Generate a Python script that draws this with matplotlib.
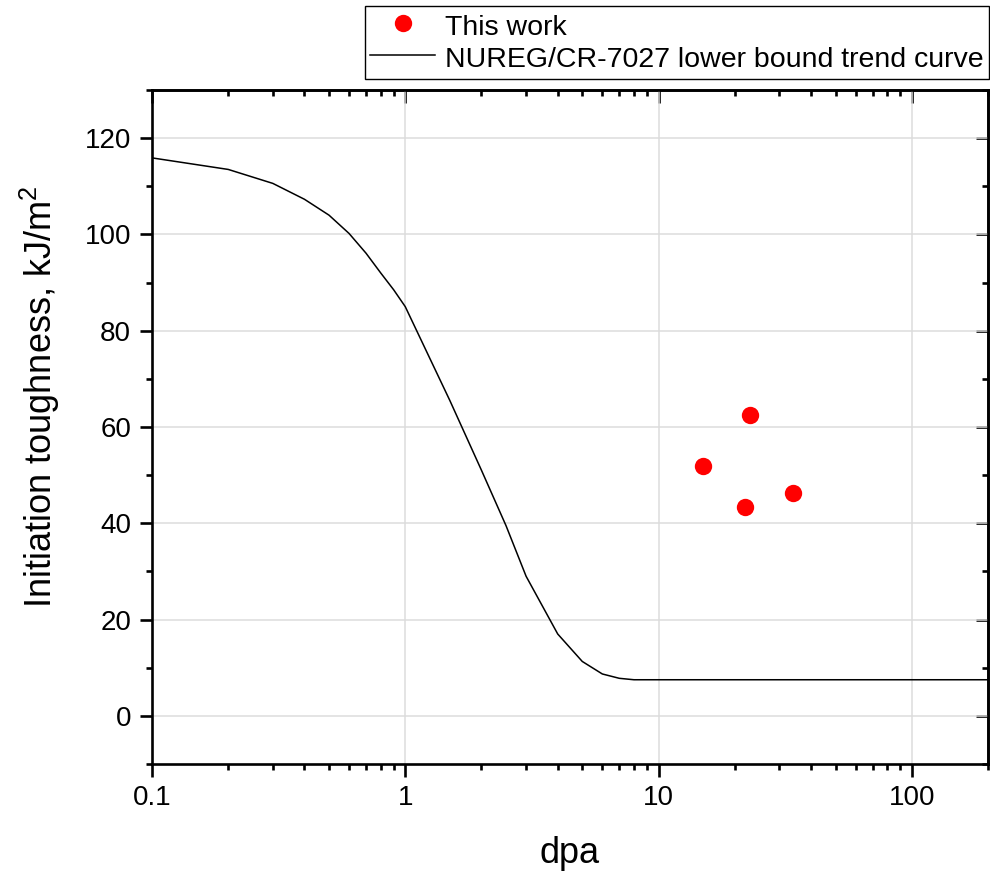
import matplotlib
matplotlib.use("Agg")
import matplotlib.pyplot as plt
from matplotlib.ticker import FixedLocator, LogLocator, MultipleLocator, NullFormatter, FuncFormatter

plt.rcParams["font.family"] = ["Liberation Sans", "DejaVu Sans"]
plt.rcParams["mathtext.fontset"] = "custom"
plt.rcParams["mathtext.rm"] = "Liberation Sans"
plt.rcParams["mathtext.default"] = "regular"

# NUREG/CR-7027 lower bound trend curve
curve_dpa = [0.1, 0.2, 0.3, 0.4, 0.5, 0.6, 0.7, 0.8, 0.9, 1.0,
             1.5, 2.0, 2.5, 3.0, 4.0, 5.0, 6.0, 7.0, 8.0, 10.0, 20.0, 50.0, 100.0, 200.0]
curve_jic = [115.9, 113.5, 110.6, 107.3, 104.0, 100.2, 96.1, 92.0, 88.5, 85.0,
             65.5, 51.0, 39.5, 29.0, 17.0, 11.3, 8.7, 7.8, 7.5, 7.5, 7.5, 7.5, 7.5, 7.5]

# This work
work_dpa = [15.0, 23.0, 22.0, 34.0]
work_jic = [51.9, 62.5, 43.4, 46.3]

x_major = [0.1, 1, 10, 100]

fig = plt.figure(figsize=(9.9, 8.71), dpi=100)
ax = fig.add_axes([152 / 990, 107 / 871, 836 / 990, 674 / 871])

ax.plot(work_dpa, work_jic, "o", color="#ff0000", markersize=12.5, markeredgewidth=0,
        label="This work", zorder=4)
ax.plot(curve_dpa, curve_jic, "-", color="black", linewidth=1.1,
        label="NUREG/CR-7027 lower bound trend curve", zorder=3)

ax.set_xscale("log")
ax.set_xlim(0.1, 200)
ax.set_ylim(-10, 130)

ax.xaxis.set_major_locator(FixedLocator(x_major))
ax.xaxis.set_major_formatter(FuncFormatter(lambda v, p: f"{v:g}"))
ax.xaxis.set_minor_locator(LogLocator(base=10, subs=range(2, 10)))
ax.xaxis.set_minor_formatter(NullFormatter())
ax.yaxis.set_major_locator(MultipleLocator(20))
ax.yaxis.set_minor_locator(MultipleLocator(10))

ax.grid(True, which="major", color="#dcdcdc", linewidth=1.1, zorder=0)
ax.set_axisbelow(True)

for s in ax.spines.values():
    s.set_linewidth(1.9)

ax.tick_params(which="both", direction="out", width=1.9, labelsize=20,
               top=False, right=False)
ax.tick_params(which="major", length=9, pad=6)
ax.tick_params(which="minor", length=4.5)

# inward ticks on top and right
ax_top = ax.secondary_xaxis("top")
ax_top.xaxis.set_major_locator(FixedLocator(x_major))
ax_top.xaxis.set_minor_locator(LogLocator(base=10, subs=range(2, 10)))
ax_top.tick_params(which="both", direction="in", width=1.9, labeltop=False)
ax_top.tick_params(which="major", length=9)
ax_top.tick_params(which="minor", length=4.5)
ax_top.spines["top"].set_linewidth(1.9)

ax_right = ax.secondary_yaxis("right")
ax_right.yaxis.set_major_locator(MultipleLocator(20))
ax_right.yaxis.set_minor_locator(MultipleLocator(10))
ax_right.tick_params(which="both", direction="in", width=1.9, labelright=False)
ax_right.tick_params(which="major", length=9)
ax_right.tick_params(which="minor", length=4.5)
ax_right.spines["right"].set_linewidth(1.9)

ax.set_xlabel("dpa", fontsize=26, labelpad=18)
ax.set_ylabel("Initiation toughness, kJ/m$^2$", fontsize=26)
ax.yaxis.set_label_coords(-0.108, 0.545)

leg = fig.legend(loc="upper right", bbox_to_anchor=(989 / 990, 1 - 6 / 871),
                 fontsize=20.5, frameon=True, fancybox=False, edgecolor="black",
                 framealpha=1, borderpad=0.18, handlelength=2.3, handletextpad=0.35,
                 labelspacing=0.08, borderaxespad=0, handleheight=1.18)
leg.get_frame().set_linewidth(1.0)

fig.savefig("out.png", dpi=100)
